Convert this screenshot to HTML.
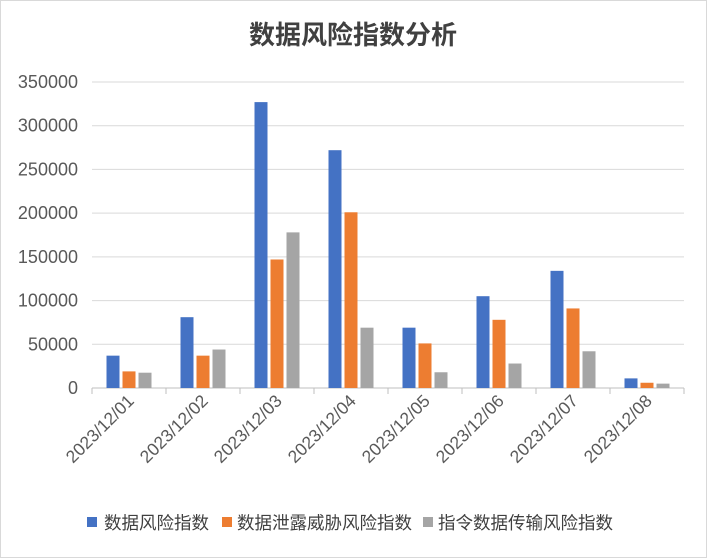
<!DOCTYPE html>
<html><head><meta charset="utf-8"><style>
body{margin:0;background:#fff}
svg{display:block;font-family:"Liberation Sans","Noto Sans CJK SC",sans-serif}
</style></head><body>
<svg id="c" width="707" height="558">
<rect x="0.5" y="0.5" width="706" height="557" fill="#fff" stroke="#d9d9d9"/>
<text x="353" y="44" text-anchor="middle" font-size="26" font-weight="bold" fill="#404040">数据风险指数分析</text>
<g id="grid"></g><g id="bars"></g><g id="xl"></g>
<g font-size="17.5" fill="#404040">
<rect x="87" y="517" width="10" height="10" fill="#4472c4"/>
<text x="104" y="529">数据风险指数</text>
<rect x="222" y="517" width="10" height="10" fill="#ed7d31"/>
<text x="237" y="529">数据泄露威胁风险指数</text>
<rect x="423" y="517" width="10" height="10" fill="#a5a5a5"/>
<text x="438" y="529">指令数据传输风险指数</text>
</g>
</svg>
<script>
const categories=["2023/12/01","2023/12/02","2023/12/03","2023/12/04","2023/12/05","2023/12/06","2023/12/07","2023/12/08"];
const riskIndex=[37000,81000,327000,272000,69000,105000,134000,11000];
const leakIndex=[19000,37000,147000,201000,51000,78000,91000,6000];
const transIndex=[17500,44000,178000,69000,18000,28000,42000,5000];
const yTicks=[0,50000,100000,150000,200000,250000,300000,350000];
const NS="http://www.w3.org/2000/svg";
const x0=92,x1=684,y0=388,y1=82,yMax=350000;
const y=v=>y0-(v/yMax)*(y0-y1);
const cw=(x1-x0)/categories.length;
const xc=i=>x0+cw*(i+0.5);
function mk(t,a,p){const e=document.createElementNS(NS,t);for(const k in a)e.setAttribute(k,a[k]);p.appendChild(e);return e;}
const grid=document.getElementById('grid');
yTicks.forEach(v=>{
 const l=mk('line',{x1:x0,x2:x1,y1:y(v),y2:y(v),stroke:v===0?'#bfbfbf':'#d9d9d9'},grid);
 
 
 const t=mk('text',{x:78,y:y(v)+6,'text-anchor':'end','font-size':18,fill:'#595959'},grid);
 t.textContent=v;
 
 
});
for(let i=0;i<=categories.length;i++){
 const l=mk('line',{x1:x0+cw*i,x2:x0+cw*i,y1:y0,y2:y0+6,stroke:'#bfbfbf'},grid);
 
 
}
const series=[[riskIndex,'#4472c4'],[leakIndex,'#ed7d31'],[transIndex,'#a5a5a5']];
const bw=13,gap=3,bars=document.getElementById('bars');
categories.forEach((c,i)=>{
 series.forEach((s,j)=>{
  const bx=xc(i)-(3*bw+2*gap)/2+j*(bw+gap);
  const r=mk('rect',{x:bx,y:y(s[0][i]),width:bw,height:y0-y(s[0][i]),fill:s[1]},bars);
  
  
 });
 const t=mk('text',{x:xc(i)+6,y:402,'text-anchor':'end','font-size':17.5,fill:'#595959',transform:`rotate(-45 ${xc(i)+6} 402)`},document.getElementById('xl'));
 t.textContent=c;
 
 
});
</script>
</body></html>
